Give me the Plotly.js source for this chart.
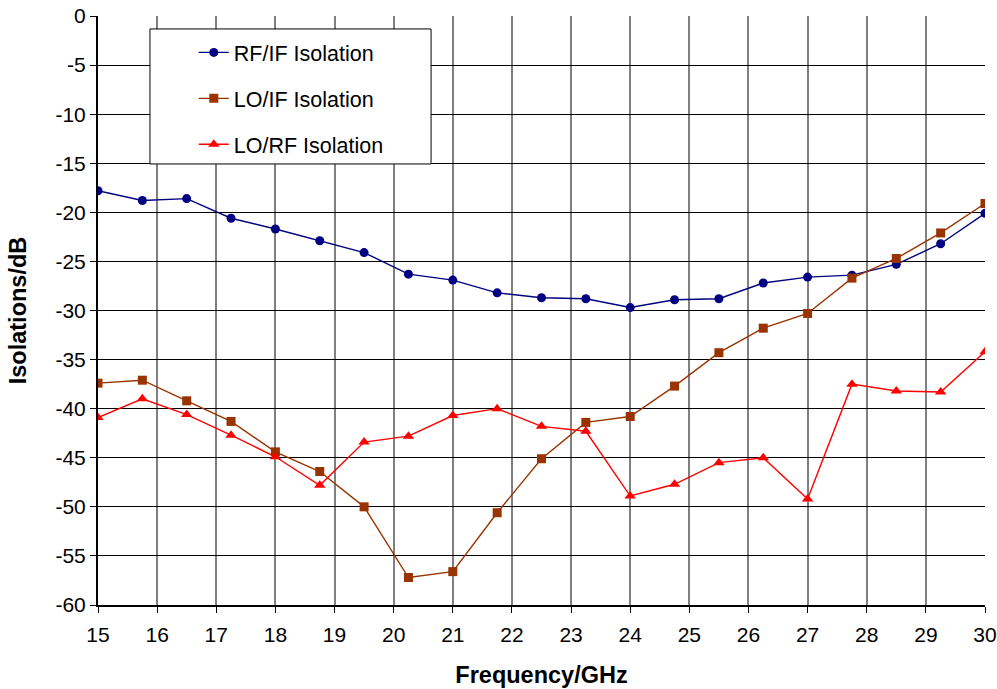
<!DOCTYPE html>
<html>
<head>
<meta charset="utf-8">
<script src="https://cdn.plot.ly/plotly-3.0.1.min.js"></script>
<style>html,body{margin:0;padding:0;background:#fff;}#chart{width:997px;height:689px;}</style>
</head>
<body>
<div id="chart"></div>
<script>
const freq = [15, 15.75, 16.5, 17.25, 18, 18.75, 19.5, 20.25, 21, 21.75, 22.5, 23.25, 24, 24.75, 25.5, 26.25, 27, 27.75, 28.5, 29.25, 30];
const rfIf = [-17.8, -18.8, -18.6, -20.6, -21.7, -22.9, -24.1, -26.3, -26.9, -28.2, -28.7, -28.8, -29.7, -28.9, -28.8, -27.2, -26.6, -26.4, -25.3, -23.2, -20.1];
const loIf = [-37.4, -37.1, -39.2, -41.3, -44.4, -46.4, -50.0, -57.2, -56.6, -50.6, -45.1, -41.4, -40.8, -37.7, -34.3, -31.8, -30.3, -26.7, -24.7, -22.1, -19.1];
const loRf = [-40.9, -39.0, -40.6, -42.7, -44.9, -47.8, -43.4, -42.8, -40.7, -40.0, -41.8, -42.3, -48.9, -47.7, -45.5, -45.0, -49.2, -37.5, -38.2, -38.3, -34.2];
const seriesNames = ['RF/IF Isolation', 'LO/IF Isolation', 'LO/RF Isolation'];
const xTicks = [15,16,17,18,19,20,21,22,23,24,25,26,27,28,29,30];
const yTicks = [0,-5,-10,-15,-20,-25,-30,-35,-40,-45,-50,-55,-60];

const traces = [
  {x: freq, y: rfIf, name: seriesNames[0], mode: 'lines+markers', legendgroup: 'a',
   line: {color: '#000080', width: 1.4}, marker: {symbol: 'circle', size: 9, color: '#000080'}},
  {x: freq, y: loIf, name: seriesNames[1], mode: 'lines+markers', legendgroup: 'b',
   line: {color: '#993300', width: 1.4}, marker: {symbol: 'square', size: 9, color: '#993300'}},
  {x: freq, y: loRf, name: seriesNames[2], mode: 'lines+markers', legendgroup: 'c',
   line: {color: '#FF0000', width: 1.4}, marker: {symbol: 'triangle-up', size: 10, color: '#FF0000'}}
];

const layout = {
  width: 997, height: 689,
  margin: {l: 98, r: 12, t: 16, b: 84},
  paper_bgcolor: '#fff', plot_bgcolor: '#fff',
  font: {family: 'Liberation Sans, Arial, sans-serif', size: 21, color: '#000'},
  showlegend: true,
  legend: {x: 0.108, y: 0.973, xanchor: 'left', yanchor: 'top', bgcolor: 'rgba(0,0,0,0)',
           borderwidth: 0, font: {size: 21.5}, tracegroupgap: 15, traceorder: 'grouped', itemwidth: 30},
  shapes: [{type: 'rect', xref: 'paper', yref: 'paper', x0: 0.0586, x1: 0.3755, y0: 0.7488, y1: 0.978,
            line: {color: '#000', width: 1}, fillcolor: '#fff', layer: 'above'}],
  xaxis: {range: [15, 30], tickvals: xTicks, ticktext: xTicks.map(String), showgrid: true,
          gridcolor: '#808080', gridwidth: 2, zeroline: false, showline: true, linecolor: '#000', linewidth: 2,
          ticks: 'outside', ticklen: 6, tickcolor: '#000', tickwidth: 1, tickfont: {size: 21},
          ticklabelstandoff: 4,
          title: {text: 'Frequency/GHz', font: {size: 23.5, weight: 'bold'}, standoff: 21}},
  yaxis: {range: [-60, 0], tickvals: yTicks, ticktext: yTicks.map(String), showgrid: true,
          gridcolor: '#000', gridwidth: 1, zeroline: false, showline: true, linecolor: '#000', linewidth: 2,
          ticks: 'outside', ticklen: 6, tickcolor: '#000', tickwidth: 1, tickfont: {size: 21},
          title: {text: 'Isolations/dB', font: {size: 23.5, weight: 'bold'}, standoff: 22}}
};
Plotly.newPlot('chart', traces, layout, {displayModeBar: false, staticPlot: true});
</script>
</body>
</html>
